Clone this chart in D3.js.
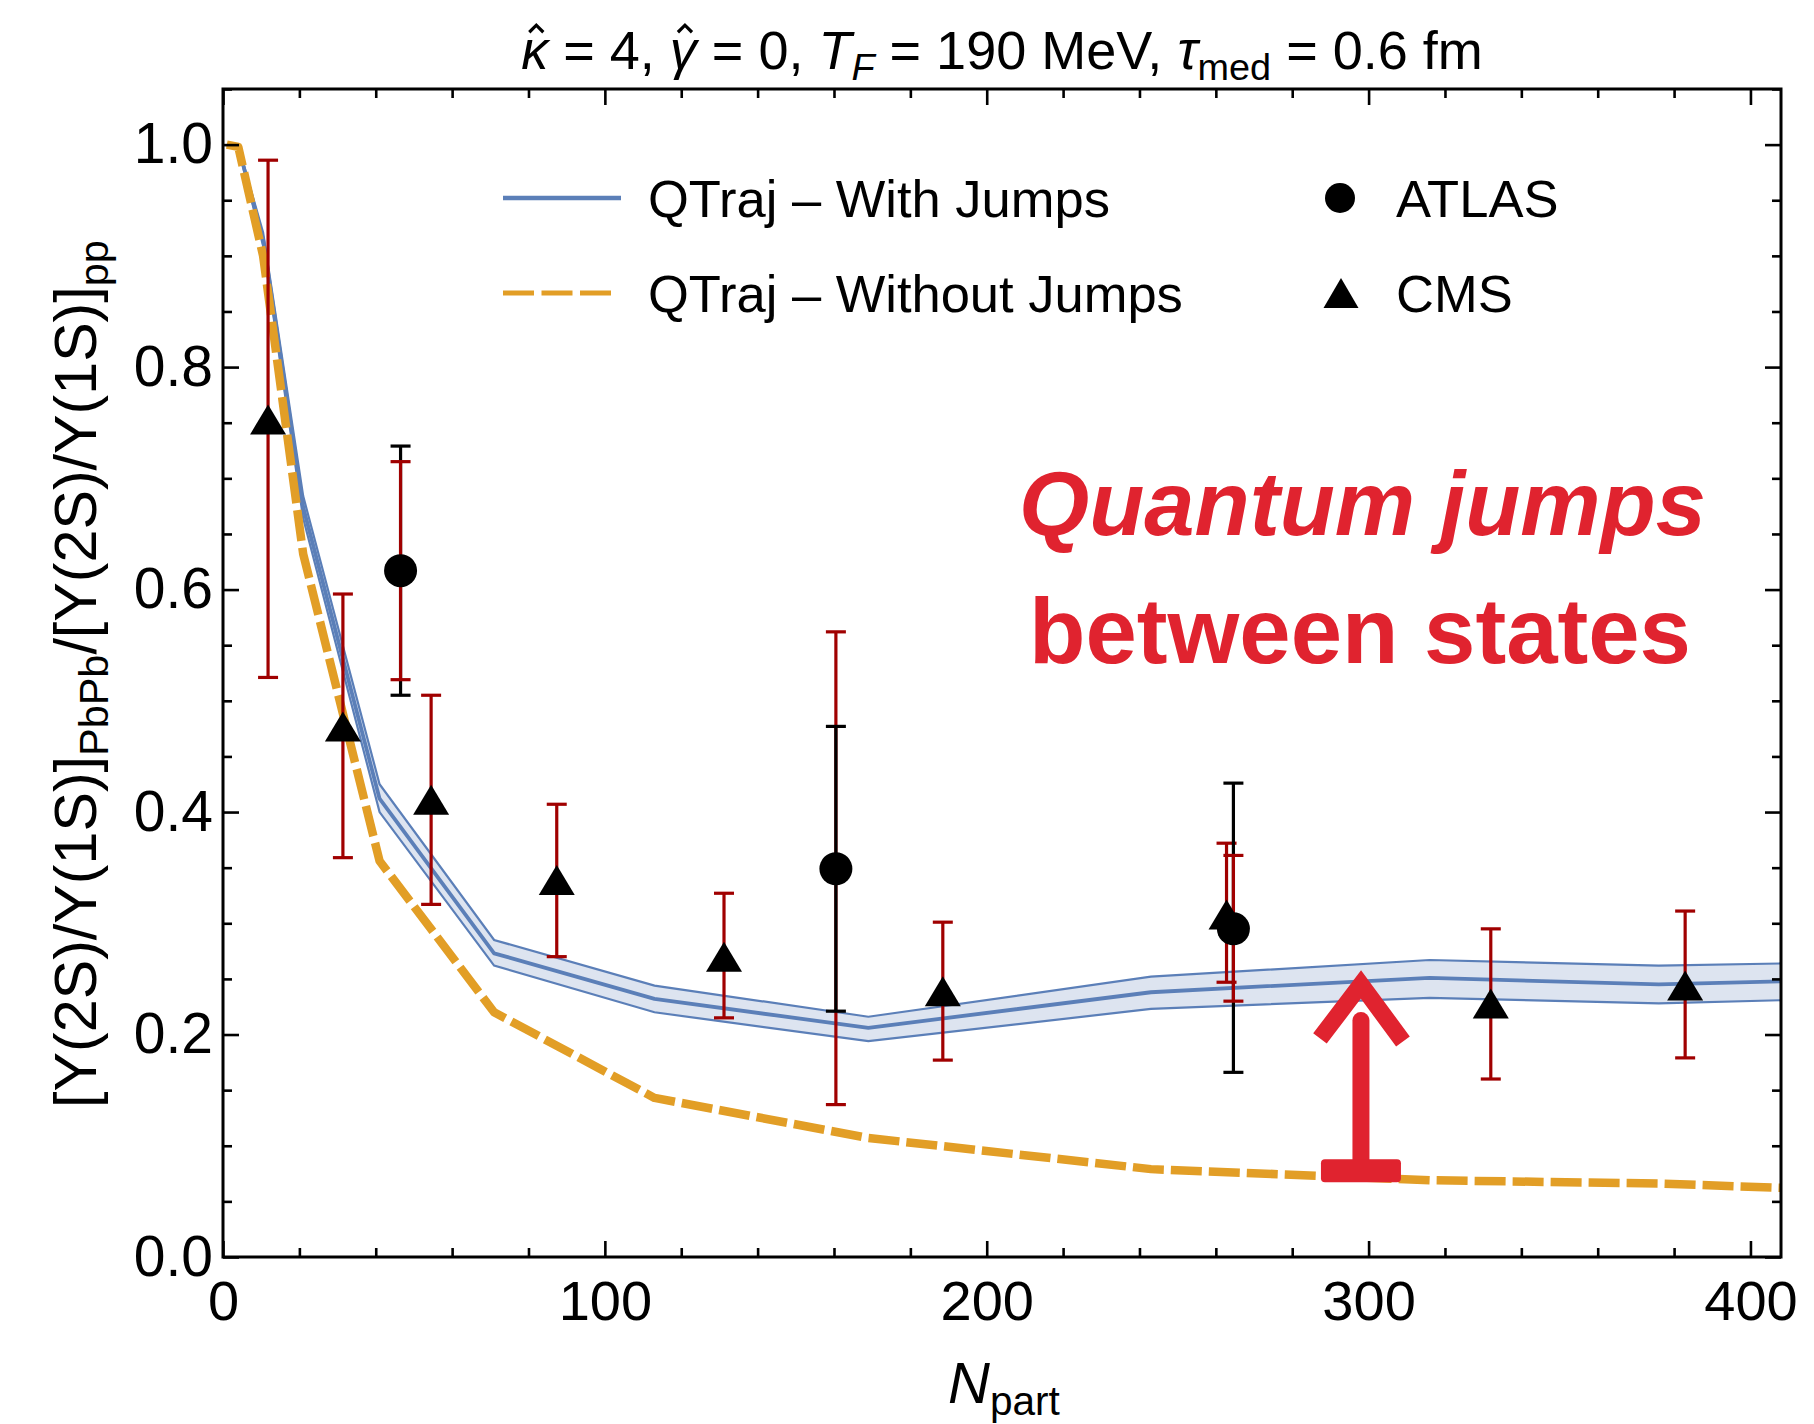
<!DOCTYPE html>
<html><head><meta charset="utf-8">
<script src="https://cdn.jsdelivr.net/npm/d3@7"></script>
<style>
html,body{margin:0;padding:0;background:#fff;}
svg{display:block;}
text{font-family:"Liberation Sans",Arial,Helvetica,sans-serif;fill:#000;}
</style></head><body>
<svg id="chart" width="1814" height="1424"></svg>
<script>
// ---------------- data ----------------
const nPart          = [1,     4,     10.5,  21,    41,    71,    113,   169,   243,   316,   376,   410];
const withJumps      = [1.000, 0.998, 0.915, 0.674, 0.412, 0.273, 0.232, 0.206, 0.238, 0.251, 0.245, 0.248];
const withJumpsUpper = [1.000, 0.999, 0.921, 0.684, 0.425, 0.285, 0.244, 0.216, 0.252, 0.267, 0.262, 0.264];
const withJumpsLower = [1.000, 0.997, 0.909, 0.664, 0.400, 0.262, 0.220, 0.194, 0.223, 0.233, 0.228, 0.231];
const withoutJumps   = [1.000, 0.998, 0.900, 0.632, 0.356, 0.220, 0.143, 0.107, 0.079, 0.069, 0.066, 0.062];

const cmsN     = [11.8,  31.4,  54.5,  87.4,  131.2, 188.5, 262.8, 332.0, 382.9];
const cmsVal   = [0.753, 0.477, 0.411, 0.339, 0.270, 0.239, 0.308, 0.228, 0.244];
const cmsErrHi = [0.986, 0.596, 0.505, 0.407, 0.327, 0.301, 0.372, 0.295, 0.311];
const cmsErrLo = [0.521, 0.359, 0.317, 0.270, 0.215, 0.177, 0.247, 0.160, 0.179];

const atlasN      = [46.5,  160.5, 264.6];
const atlasVal    = [0.617, 0.349, 0.295];
const atlasBlkHi  = [0.729, 0.477, 0.426];
const atlasBlkLo  = [0.505, 0.221, 0.166];
const atlasRedHi  = [0.715, 0.562, 0.361];
const atlasRedLo  = [0.519, 0.137, 0.230];

const xTicks = [0, 100, 200, 300, 400];
const yTicks = [0, 0.2, 0.4, 0.6, 0.8, 1.0];
const xMinor = d3.range(0, 21).map(i => i * 20).filter(v => v % 100 !== 0);
const yMinor = d3.range(0, 22).filter(i => i % 4 !== 0).map(i => i * 0.05);

const legendLabels = ["QTraj \u2013 With Jumps", "QTraj \u2013 Without Jumps", "ATLAS", "CMS"];
const arrowAnno = {n: 298, base: 0.077, tip: 0.245};

// ---------------- setup ----------------
const BLUE = "#5b7fb8", BAND = "#dde4f0", ORANGE = "#e29e26", DARKRED = "#a00000", RED = "#e0232f";
const W = 1814, H = 1424;
const L = 223, R = 1781, T = 89, B = 1257;
const svg = d3.select("#chart");
svg.append("rect").attr("width", W).attr("height", H).attr("fill", "#fff");

const x = d3.scaleLinear().domain([0, 408]).range([L, R]);
const y = d3.scaleLinear().domain([0, 1.05]).range([B, T]);

svg.append("defs").append("clipPath").attr("id", "clip")
  .append("rect").attr("x", L).attr("y", T).attr("width", R - L).attr("height", B - T);
const plot = svg.append("g").attr("clip-path", "url(#clip)");

const rows = nPart.map((n, i) => ({n, c: withJumps[i], hi: withJumpsUpper[i], lo: withJumpsLower[i], o: withoutJumps[i]}));

plot.append("path").datum(rows)
  .attr("d", d3.area().x(d => x(d.n)).y0(d => y(d.lo)).y1(d => y(d.hi)))
  .attr("fill", BAND);
["lo", "hi"].forEach(k => {
  plot.append("path").datum(rows)
    .attr("d", d3.line().x(d => x(d.n)).y(d => y(d[k])))
    .attr("fill", "none").attr("stroke", BLUE).attr("stroke-width", 2.2);
});
plot.append("path").datum(rows)
  .attr("d", d3.line().x(d => x(d.n)).y(d => y(d.c)))
  .attr("fill", "none").attr("stroke", BLUE).attr("stroke-width", 3.8).attr("stroke-linejoin", "round");
plot.append("path").datum(rows)
  .attr("d", d3.line().x(d => x(d.n)).y(d => y(d.o)))
  .attr("fill", "none").attr("stroke", ORANGE).attr("stroke-width", 8.5)
  .attr("stroke-dasharray", "31,7").attr("stroke-linejoin", "round");

// ---------------- error bars & markers ----------------
const eb = svg.append("g");
function errBar(n, lo, hi, color, w) {
  const cx = x(n);
  eb.append("line").attr("x1", cx).attr("x2", cx).attr("y1", y(lo)).attr("y2", y(hi))
    .attr("stroke", color).attr("stroke-width", w);
  [lo, hi].forEach(v => eb.append("line").attr("x1", cx - 10).attr("x2", cx + 10)
    .attr("y1", y(v)).attr("y2", y(v)).attr("stroke", color).attr("stroke-width", w));
}
cmsN.forEach((n, i) => errBar(n, cmsErrLo[i], cmsErrHi[i], DARKRED, 3.2));
atlasN.forEach((n, i) => {
  const bars = [
    {lo: atlasBlkLo[i], hi: atlasBlkHi[i], c: "#000"},
    {lo: atlasRedLo[i], hi: atlasRedHi[i], c: DARKRED}
  ].sort((a, b) => (b.hi - b.lo) - (a.hi - a.lo));
  bars.forEach(b => errBar(n, b.lo, b.hi, b.c, 3.2));
});

const triPath = (w, h) => `M0,${-h/2}L${w/2},${h/2}L${-w/2},${h/2}Z`;
svg.append("g").selectAll("path").data(cmsN.map((n, i) => [n, cmsVal[i]])).join("path")
  .attr("transform", d => `translate(${x(d[0])},${y(d[1])})`)
  .attr("d", triPath(36, 30)).attr("fill", "#000");
svg.append("g").selectAll("circle").data(atlasN.map((n, i) => [n, atlasVal[i]])).join("circle")
  .attr("cx", d => x(d[0])).attr("cy", d => y(d[1])).attr("r", 16.5).attr("fill", "#000");

// ---------------- arrow annotation ----------------
const ag = svg.append("g").attr("fill", "none").attr("stroke", RED).attr("stroke-linecap", "round");
const ax = x(arrowAnno.n), aTip = y(arrowAnno.tip), aBase = y(arrowAnno.base);
ag.append("line").attr("x1", ax).attr("x2", ax).attr("y1", aBase - 8).attr("y2", aTip + 36).attr("stroke-width", 17);
ag.append("path").attr("d", `M${ax - 41},${aTip + 54}L${ax},${aTip}L${ax + 42},${aTip + 57}`)
  .attr("stroke-width", 17).attr("stroke-linejoin", "miter").attr("stroke-linecap", "butt");
svg.append("rect").attr("x", ax - 40).attr("y", aBase - 12).attr("width", 80).attr("height", 23)
  .attr("rx", 4).attr("fill", RED);

// ---------------- axes ----------------
const axesG = svg.append("g");
function styleAxis(g) { g.select(".domain").remove(); g.selectAll("line").attr("stroke", "#000").attr("stroke-width", 2.6); }
axesG.append("g").attr("transform", `translate(0,${B})`)
  .call(d3.axisBottom(x).tickValues(xTicks).tickSize(-16).tickPadding(23).tickFormat(d3.format("d")))
  .call(styleAxis).call(g => g.selectAll("text").attr("font-size", 56).attr("font-family", "Liberation Sans, Arial, sans-serif"));
axesG.append("g").attr("transform", `translate(0,${B})`)
  .call(d3.axisBottom(x).tickValues(xMinor).tickSize(-9).tickFormat("")).call(styleAxis);
axesG.append("g").attr("transform", `translate(0,${T})`)
  .call(d3.axisTop(x).tickValues(xTicks).tickSize(-16).tickFormat("")).call(styleAxis);
axesG.append("g").attr("transform", `translate(0,${T})`)
  .call(d3.axisTop(x).tickValues(xMinor).tickSize(-9).tickFormat("")).call(styleAxis);
axesG.append("g").attr("transform", `translate(${L},0)`)
  .call(d3.axisLeft(y).tickValues(yTicks).tickSize(-16).tickPadding(10).tickFormat(d3.format(".1f")))
  .call(styleAxis).call(g => g.selectAll("text").attr("font-size", 57).attr("font-family", "Liberation Sans, Arial, sans-serif"));
axesG.append("g").attr("transform", `translate(${L},0)`)
  .call(d3.axisLeft(y).tickValues(yMinor).tickSize(-9).tickFormat("")).call(styleAxis);
axesG.append("g").attr("transform", `translate(${R},0)`)
  .call(d3.axisRight(y).tickValues(yTicks).tickSize(-16).tickFormat("")).call(styleAxis);
axesG.append("g").attr("transform", `translate(${R},0)`)
  .call(d3.axisRight(y).tickValues(yMinor).tickSize(-9).tickFormat("")).call(styleAxis);
svg.append("rect").attr("x", L).attr("y", T).attr("width", R - L).attr("height", B - T)
  .attr("fill", "none").attr("stroke", "#000").attr("stroke-width", 3);

// ---------------- text helpers ----------------
function fit(t, target) {
  const w = t.node().getBBox().width;
  const fs = parseFloat(t.attr("font-size"));
  t.attr("font-size", fs * target / w);
}

// title
const titleY = 69;
const title = svg.append("text").attr("x", (L + R) / 2).attr("y", titleY).attr("text-anchor", "middle").attr("font-size", 50);
title.append("tspan").attr("font-style", "italic").text("\u03BA");
title.append("tspan").text(" = 4, ");
title.append("tspan").attr("font-style", "italic").text("\u03B3");
title.append("tspan").text(" = 0, ");
title.append("tspan").attr("font-style", "italic").text("T");
title.append("tspan").attr("font-style", "italic").attr("font-size", "70%").attr("dy", "0.3em").text("F");
title.append("tspan").attr("dy", "-0.21em").text(" = 190 MeV, ");
title.append("tspan").attr("font-style", "italic").text("\u03C4");
title.append("tspan").attr("font-size", "70%").attr("dy", "0.3em").text("med");
title.append("tspan").attr("dy", "-0.21em").text(" = 0.6 fm");
fit(title, 962);
// hats over kappa (char 0) and gamma (char 7), drawn as small strokes
const tfs = parseFloat(title.attr("font-size"));
[0, 7].forEach(ci => {
  const r = title.node().getExtentOfChar(ci);
  const cx = r.x + r.width * 0.56;
  const yb = titleY - 0.68 * tfs, yt = titleY - 0.81 * tfs, hw = 0.13 * tfs;
  svg.append("path").attr("d", `M${cx - hw},${yb}L${cx},${yt}L${cx + hw},${yb}`)
    .attr("fill", "none").attr("stroke", "#000").attr("stroke-width", 3.2).attr("stroke-linejoin", "miter");
});

// y label
const yl = svg.append("text").attr("transform", `translate(96,674) rotate(-90)`).attr("text-anchor", "middle").attr("font-size", 56);
yl.append("tspan").text("[\u03A5(2S)/\u03A5(1S)]");
yl.append("tspan").attr("font-size", "70%").attr("dy", "0.3em").text("PbPb");
yl.append("tspan").attr("dy", "-0.21em").text("/[\u03A5(2S)/\u03A5(1S)]");
yl.append("tspan").attr("font-size", "70%").attr("dy", "0.3em").text("pp");
fit(yl, 868);

// x label
const xl = svg.append("text").attr("x", 1004).attr("y", 1403).attr("text-anchor", "middle").attr("font-size", 58);
xl.append("tspan").attr("font-style", "italic").text("N");
xl.append("tspan").attr("font-size", "70%").attr("dy", "0.3em").text("part");

// legend
const lg = svg.append("g");
lg.append("line").attr("x1", 503).attr("x2", 621).attr("y1", 198).attr("y2", 198).attr("stroke", BLUE).attr("stroke-width", 4.5);
lg.append("line").attr("x1", 503).attr("x2", 615).attr("y1", 293).attr("y2", 293).attr("stroke", ORANGE).attr("stroke-width", 5).attr("stroke-dasharray", "31,7.5");
lg.append("circle").attr("cx", 1340).attr("cy", 198).attr("r", 15).attr("fill", "#000");
lg.append("path").attr("transform", "translate(1341,293)").attr("d", triPath(35, 30)).attr("fill", "#000");
const lpos = [[648, 217], [648, 312], [1396, 217], [1396, 312]];
legendLabels.forEach((s, i) => lg.append("text").attr("x", lpos[i][0]).attr("y", lpos[i][1]).attr("font-size", 52.5).text(s));

// red annotation text
const q = svg.append("text").attr("x", 1019).attr("y", 535).attr("font-size", 94)
  .attr("font-family", "Lato, 'Open Sans', sans-serif").attr("font-weight", 700).attr("font-style", "italic")
  .style("fill", RED).text("Quantum jumps");
fit(q, 687);
const bs = svg.append("text").attr("x", 1029).attr("y", 663).attr("font-size", 94)
  .attr("font-family", "Lato, 'Open Sans', sans-serif").attr("font-weight", 700)
  .style("fill", RED).text("between states");
fit(bs, 662);
</script>
</body></html>
